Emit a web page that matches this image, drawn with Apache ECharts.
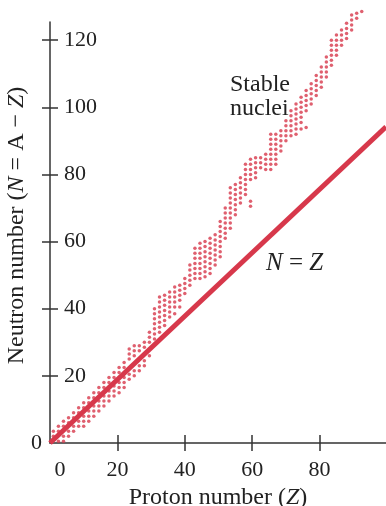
<!DOCTYPE html>
<html>
<head>
<meta charset="utf-8">
<script src="https://cdn.jsdelivr.net/npm/echarts@6/dist/echarts.min.js"></script>
<style>
  html, body { margin: 0; padding: 0; background: #fff; }
  #chart { width: 386px; height: 506px; }
</style>
</head>
<body>
<div id="chart"></div>
<script>
const xTickValues = [0, 20, 40, 60, 80];
const yTickValues = [20, 40, 60, 80, 100, 120];
const zLine = [0, 99.7];
const nLine = [0, 94.2];

// stable nuclei dots: one column per Z value, with its N values
const nucleiZ = [
  1, 2.5, 4, 5.5, 7, 8.5, 10, 11.5, 13, 14.5, 16, 17.5, 19, 20.5, 22,
  23.5, 25, 26.5, 28, 29.5, 31, 32.5, 34, 35.5, 37, 38.5, 40, 41.5, 43,
  44.5, 46, 47.5, 49, 50.5, 52, 53.5, 55, 56.5, 58, 59.5, 61, 62.5, 64,
  65.5, 67, 68.5, 70, 71.5, 73, 74.5, 76, 77.5, 79, 80.5, 82, 83.5, 85,
  86.5, 88, 89.5, 91, 92.5
];
const nucleiN = [
  [3.5, 2], [5, 3.5, 0.5], [6.5, 5, 2, 0.5], [7.5, 6, 3.5, 2], [9, 7.5, 5, 3.5],
  [10.5, 9, 6.5, 5], [12, 10.5, 8, 6.5, 5], [13.5, 12, 9.5, 8, 6.5],
  [15, 13.5, 11, 9.5, 8], [16.5, 15, 12.5, 11, 9.5], [18, 16.5, 14, 12.5, 11],
  [19.5, 18, 15.5, 14, 12.5], [21, 19.5, 17, 15.5, 14], [22.5, 21, 18, 16.5, 15],
  [24, 22.5, 19.5, 18, 16.5],
  [28, 26.5, 25, 20.5, 19], [29, 27.5, 26, 21.5, 20], [29, 27.5, 23, 21.5],
  [30, 28.5, 24.5, 23], [33, 31.5, 30, 26],
  [40, 38.5, 37, 35.5, 34, 32.5, 31], [43.5, 42, 40.5, 39, 37.5, 36, 34.5, 33],
  [44, 42.5, 41, 39.5, 38, 36.5, 35], [45, 43.5, 42, 40.5, 39, 37.5],
  [46.5, 45, 43.5, 42, 40.5, 38.5], [47, 45.5, 44, 42.5, 40.5], [49, 47.5, 46, 44.5],
  [53, 51.5, 50, 48.5, 47], [58, 56.5, 55, 53.5, 52, 50.5, 49],
  [59.5, 58, 56.5, 55, 53.5, 52, 50.5, 49], [60, 58.5, 57, 55.5, 54, 52.5, 51, 49.5],
  [61, 59.5, 58, 56.5, 55, 53.5, 52, 50.5], [62, 60.5, 59, 57.5, 56, 54.5, 53],
  [66, 64.5, 63, 61.5, 60, 58.5, 57, 55.5], [70, 68.5, 67, 65.5, 64, 62.5, 61],
  [76, 74.5, 73, 71.5, 70, 68.5, 67, 65.5, 64], [77, 75.5, 74, 72.5, 71, 69.5, 68],
  [79, 77.5, 76, 74.5, 73, 71.5], [83, 81.5, 80, 78.5, 77, 75.5, 74],
  [84.5, 83, 81.5, 80, 78.5, 72, 70.5], [85, 83.5, 82, 80.5, 79], [85, 83.5, 82],
  [86, 84.5, 83, 81.5],
  [92, 90.5, 89, 87.5, 86, 84.5, 83, 81.5], [92, 90.5, 89, 87.5, 86, 84.5, 83],
  [93, 91.5, 90, 88.5, 87], [96, 94.5, 93, 91.5, 90], [99, 97.5, 96, 94.5, 93, 91.5],
  [101, 99.5, 98, 96.5, 95, 93.5, 92], [103, 101.5, 100, 98.5, 97, 95.5, 93.5],
  [105, 103.5, 102, 100.5, 99, 94], [107, 105.5, 104, 102.5, 101],
  [109.5, 108, 106.5, 105, 103.5], [112, 110.5, 109, 107.5, 106],
  [115, 113.5, 112, 110.5, 109], [120, 118.5, 117, 115.5, 114, 112.5],
  [121.5, 120, 118.5, 117, 115.5], [123, 121.5, 120, 118.5],
  [125, 123.5, 122, 120.5], [127.5, 126, 124.5, 123], [128, 126.5], [128.5]
];

const RED = "#d7384b";
const INK = "#222";
const SERIF = '"Liberation Serif", "Times New Roman", serif';

const nucleiPoints = [];
nucleiZ.forEach((z, i) => {
  nucleiN[i].forEach((n) => nucleiPoints.push([z, n]));
});

const chart = echarts.init(document.getElementById("chart"));

const axisLine = { lineStyle: { color: "#333", width: 1.5 } };

chart.setOption({
  animation: false,
  grid: { left: 50, right: 0, top: 22, bottom: 63, outerBoundsMode: "none" },
  xAxis: [
    {
      type: "value",
      min: 0,
      max: 99.7,
      splitLine: { show: false },
      axisLine: axisLine,
      axisTick: {
        length: 8,
        customValues: [20, 40, 60, 80],
        lineStyle: { color: "#333", width: 1.5 },
      },
      axisLabel: {
        customValues: xTickValues,
        margin: 16,
        fontFamily: SERIF,
        fontSize: 22,
        color: INK,
        formatter: (v) => (v === 0 ? "{z|0}" : String(v)),
        rich: { z: { fontFamily: SERIF, fontSize: 22, color: INK, padding: [0, 0, 0, 20] } },
      },
      name: "Proton number ({i|Z})",
      nameLocation: "middle",
      nameGap: 37,
      nameTextStyle: {
        fontFamily: SERIF,
        fontSize: 24,
        color: INK,
        rich: { i: { fontFamily: SERIF, fontSize: 24, color: INK, fontStyle: "italic" } },
      },
    },
    {
      type: "value",
      min: 0,
      max: 99.7,
      splitLine: { show: false },
      axisLine: { show: false },
      axisTick: {
        inside: true,
        length: 8,
        customValues: [20, 40, 60, 80],
        lineStyle: { color: "#333", width: 1.5 },
      },
      axisLabel: { show: false },
      position: "bottom",
    },
  ],
  yAxis: [
    {
      type: "value",
      min: 0,
      max: 125.4,
      splitLine: { show: false },
      axisLine: axisLine,
      axisTick: {
        inside: true,
        length: 8,
        customValues: yTickValues,
        lineStyle: { color: "#333", width: 1.5 },
      },
      axisLabel: {
        inside: true,
        customValues: yTickValues,
        margin: 14,
        fontFamily: SERIF,
        fontSize: 22,
        color: INK,
      },
      name: "Neutron number ({i|N} = A \u2212 {i|Z})",
      nameLocation: "middle",
      nameGap: 21,
      nameTextStyle: {
        fontFamily: SERIF,
        fontSize: 24,
        color: INK,
        padding: [0, 0, 0, 14],
        rich: { i: { fontFamily: SERIF, fontSize: 24, color: INK, fontStyle: "italic" } },
      },
    },
    {
      type: "value",
      min: 0,
      max: 125.4,
      position: "left",
      splitLine: { show: false },
      axisLine: { show: false },
      axisTick: {
        length: 8,
        customValues: yTickValues,
        lineStyle: { color: "#333", width: 1.5 },
      },
      axisLabel: {
        customValues: [0],
        margin: 8,
        fontFamily: SERIF,
        fontSize: 22,
        color: INK,
      },
    },
  ],
  graphic: [
    {
      type: "text",
      left: 230,
      top: 73,
      style: {
        text: "Stable\nnuclei",
        font: "24px " + SERIF,
        lineHeight: 24,
        fill: INK,
      },
    },
    {
      type: "text",
      left: 266,
      top: 251,
      style: {
        text: "{i|N} = {i|Z}",
        font: "25px " + SERIF,
        fill: INK,
        rich: { i: { font: "italic 25px " + SERIF, fill: INK } },
      },
    },
  ],
  series: [
    {
      name: "Stable nuclei",
      type: "scatter",
      data: nucleiPoints,
      symbol: "circle",
      symbolSize: 3.5,
      clip: false,
      itemStyle: { color: RED },
      z: 2,
    },
    {
      name: "N = Z",
      type: "line",
      data: zLine.map((z, i) => [z, nLine[i]]),
      showSymbol: false,
      lineStyle: { color: RED, width: 5 },
      z: 3,
    },
  ],
});
</script>
</body>
</html>
